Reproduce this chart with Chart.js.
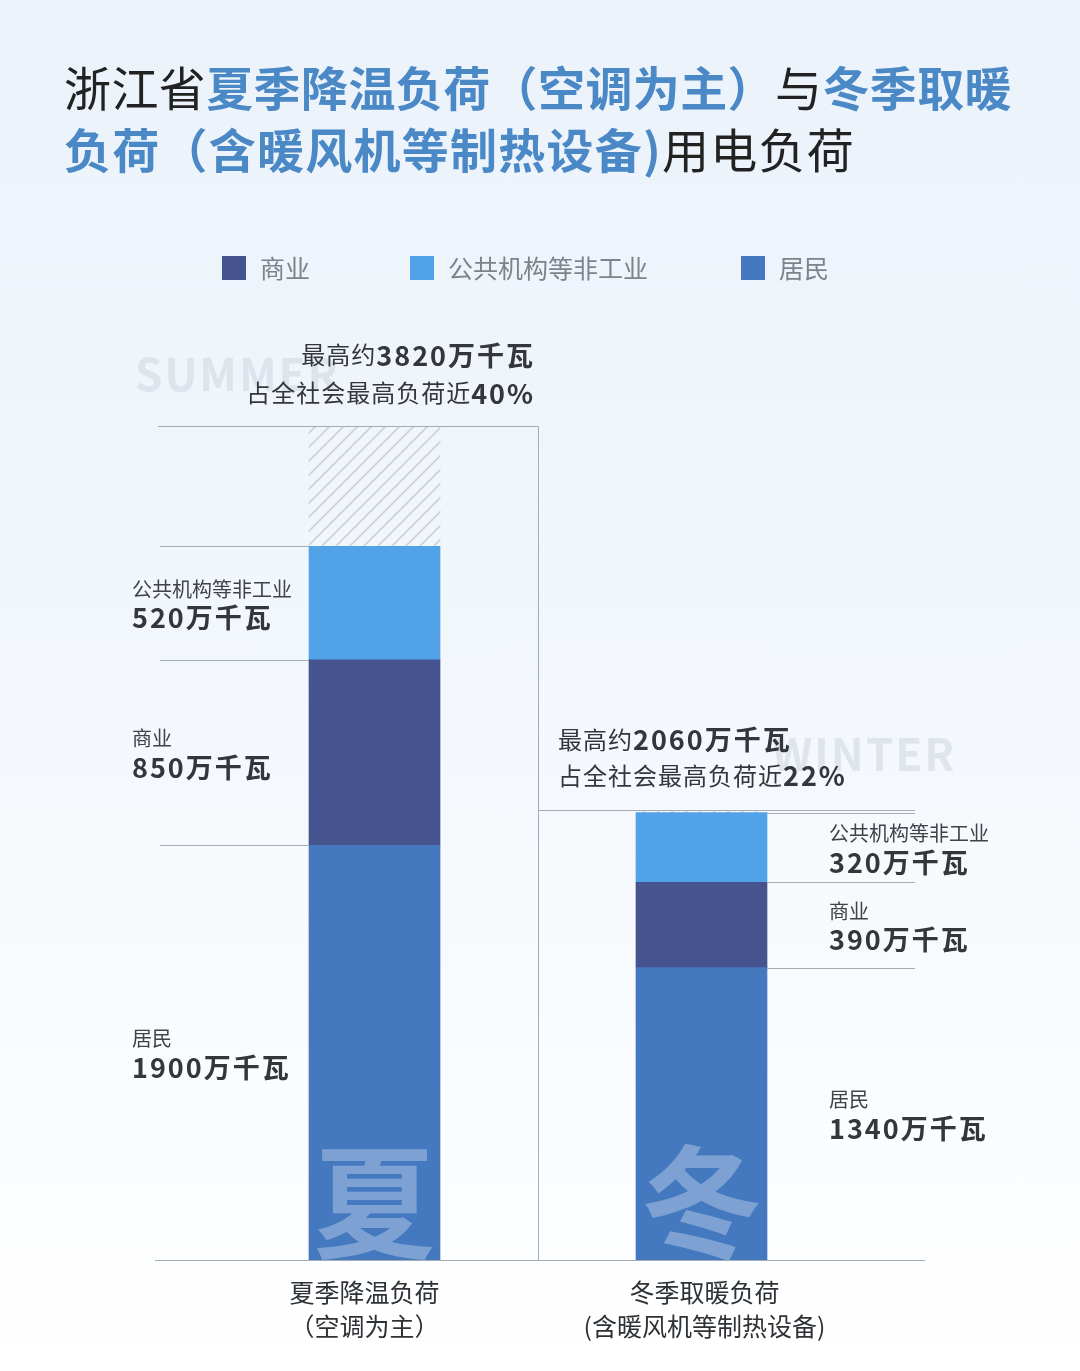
<!DOCTYPE html>
<html>
<head>
<meta charset="utf-8">
<script src="https://cdn.jsdelivr.net/npm/chart.js@4.4.1/dist/chart.umd.min.js"></script>
<style>
  html, body { margin: 0; padding: 0; }
  body {
    width: 1080px; height: 1371px; overflow: hidden;
    background: linear-gradient(180deg, #ebf2fa 0%, #f2f7fc 45%, #fafcfe 80%, #ffffff 100%);
  }
  #c { display: block; }
</style>
</head>
<body>
<canvas id="c" width="1080" height="1371"></canvas>
<script>
// data (单位: 万千瓦)
var categories = ["夏季降温负荷", "冬季取暖负荷"];
var axisLabels = [["夏季降温负荷", "（空调为主）"], ["冬季取暖负荷", "(含暖风机等制热设备)"]];
var residential = [1900, 1340];
var commercial = [850, 390];
var publicInst = [520, 320];
var peakTotal = [3820, 2060];
var peakShare = [40, 22];
var seasonChar = ["夏", "冬"];
var seasonWord = ["SUMMER", "WINTER"];

var FONT = "'Noto Sans CJK SC', 'Noto Sans', sans-serif";
var colors = { residential: "#4479bf", commercial: "#45538f", publicInst: "#52a2e8" };
var lineColor = "#a4acb5";

// remainder up to the peak (hatched)
var remainder = peakTotal.map(function (t, i) {
    return t - residential[i] - commercial[i] - publicInst[i];
});

function hatchPattern() {
    var p = document.createElement("canvas");
    p.width = 14; p.height = 14;
    var g = p.getContext("2d");
    g.strokeStyle = "#cfd2d5";
    g.lineWidth = 1.6;
    g.beginPath();
    g.moveTo(0, 14); g.lineTo(14, 0);
    g.moveTo(-7, 7); g.lineTo(7, -7);
    g.moveTo(7, 21); g.lineTo(21, 7);
    g.stroke();
    return document.getElementById("c").getContext("2d").createPattern(p, "repeat");
}

// draw a row of text runs [text, font, color, letterSpacing]
function runs(ctx, parts, x, y, align) {
    var w = 0;
    parts.forEach(function (p) {
        ctx.font = p[1];
        ctx.letterSpacing = (p[3] || 0) + "px";
        w += ctx.measureText(p[0]).width;
    });
    var cx = align === "right" ? x - w : (align === "center" ? x - w / 2 : x);
    ctx.textBaseline = "middle";
    ctx.textAlign = "left";
    parts.forEach(function (p) {
        ctx.font = p[1];
        ctx.letterSpacing = (p[3] || 0) + "px";
        ctx.fillStyle = p[2];
        ctx.fillText(p[0], cx, y);
        cx += ctx.measureText(p[0]).width;
    });
    ctx.letterSpacing = "0px";
}

function hline(ctx, x1, x2, y) {
    ctx.beginPath();
    ctx.moveTo(x1, Math.round(y) + 0.5);
    ctx.lineTo(x2, Math.round(y) + 0.5);
    ctx.stroke();
}

var decor = {
    id: "decor",
    beforeDatasetsDraw: function (chart) {
        var ctx = chart.ctx;
        var ys = chart.scales.y;
        ctx.save();
        // ghost words
        ctx.font = "bold 44px " + FONT;
        ctx.fillStyle = "rgba(205,213,222,0.55)";
        ctx.textBaseline = "middle";
        ctx.letterSpacing = "2px";
        ctx.fillText(seasonWord[0], 135, ys.getPixelForValue(peakTotal[0]) - 52);
        ctx.fillText(seasonWord[1], 772, ys.getPixelForValue(peakTotal[1]) - 56);
        ctx.letterSpacing = "0px";
        ctx.restore();
    },
    afterDatasetsDraw: function (chart) {
        var ctx = chart.ctx;
        var xs = chart.scales.x, ys = chart.scales.y;
        var bars = chart.getDatasetMeta(0).data;
        var half = bars[0].width / 2;
        var b0 = bars[0].x, b1 = bars[1].x;
        var divider = (b0 + half + b1 - half) / 2;
        var base = ys.getPixelForValue(0);
        ctx.save();

        // title
        var blue = "#4a88c6", dark = "#222222";
        var reg = "47px " + FONT, bold = "bold 47px " + FONT;
        runs(ctx, [["浙江省", reg, dark, 0.4], ["夏季降温负荷（空调为主）", bold, blue, 0.4], ["与", reg, dark, 0.4], ["冬季取暖", bold, blue, 0.4]], 64, 88);
        runs(ctx, [["负荷（含暖风机等制热设备)", bold, blue, 1.25], ["用电负荷", reg, dark, 1.25]], 64, 150);

        // legend
        var legend = [["商业", colors.commercial, 222], ["公共机构等非工业", colors.publicInst, 410], ["居民", colors.residential, 741]];
        legend.forEach(function (l) {
            ctx.fillStyle = l[1];
            ctx.fillRect(l[2], 256, 24, 24);
            runs(ctx, [[l[0], "25px " + FONT, "#7d838a"]], l[2] + 38, 268);
        });

        // watermark characters inside bars
        [b0, b1].forEach(function (bx, i) {
            ctx.save();
            ctx.beginPath();
            ctx.rect(bx - half, base - 140, half * 2, 140);
            ctx.clip();
            ctx.font = "bold 122px " + FONT;
            ctx.fillStyle = "rgba(255,255,255,0.3)";
            ctx.textAlign = "center";
            ctx.textBaseline = "alphabetic";
            ctx.fillText(seasonChar[i], bx, base - 12);
            ctx.restore();
        });

        // guide lines
        ctx.strokeStyle = lineColor;
        ctx.lineWidth = 1;
        hline(ctx, 155, 925, base);
        ctx.beginPath();
        ctx.moveTo(Math.round(divider) + 0.5, ys.getPixelForValue(peakTotal[0]));
        ctx.lineTo(Math.round(divider) + 0.5, base);
        ctx.stroke();
        hline(ctx, 158, divider, ys.getPixelForValue(peakTotal[0]));
        hline(ctx, divider, 915, ys.getPixelForValue(peakTotal[1]));

        var segs = [["居民", residential], ["商业", commercial], ["公共机构等非工业", publicInst]];
        [0, 1].forEach(function (i) {
            var acc = 0;
            segs.forEach(function (s) {
                var lo = acc, hi = acc + s[1][i];
                acc = hi;
                var yTop = ys.getPixelForValue(hi);
                var mid = (ys.getPixelForValue(lo) + yTop) / 2;
                if (i === 0) hline(ctx, 160, b0 - half, yTop);
                else hline(ctx, b1 + half, 915, yTop);
                var lx = i === 0 ? 132 : b1 + half + 62;
                runs(ctx, [[s[0], "20px " + FONT, "#3f4348"]], lx, mid - 14);
                runs(ctx, [[s[1][i] + "万千瓦", "bold 27px " + FONT, "#33363a", 2]], lx, mid + 15);
            });
        });

        // peak annotations
        var sr = "24px " + FONT, sb = "bold 27px " + FONT, tc = "#33363a";
        var t0 = ys.getPixelForValue(peakTotal[0]);
        runs(ctx, [["最高约", sr, tc, 1], [peakTotal[0] + "万千瓦", sb, tc, 2]], divider - 3, t0 - 71, "right");
        runs(ctx, [["占全社会最高负荷近", sr, tc, 1], [peakShare[0] + "%", sb, tc, 2]], divider - 3, t0 - 33, "right");
        var t1 = ys.getPixelForValue(peakTotal[1]);
        runs(ctx, [["最高约", sr, tc, 1], [peakTotal[1] + "万千瓦", sb, tc, 2]], divider + 20, t1 - 71);
        runs(ctx, [["占全社会最高负荷近", sr, tc, 1], [peakShare[1] + "%", sb, tc, 2]], divider + 20, t1 - 35);

        // category labels
        [b0, b1].forEach(function (bx, i) {
            var cx = xs.getPixelForValue(i) - (i === 0 ? 10 : -3);
            runs(ctx, [[axisLabels[i][0], "25px " + FONT, "#2e3135"]], cx, base + 32, "center");
            runs(ctx, [[axisLabels[i][1], "25px " + FONT, "#2e3135"]], cx, base + 66, "center");
        });
        ctx.restore();
    }
};

var chart = new Chart(document.getElementById("c"), {
    type: "bar",
    data: {
        labels: categories,
        datasets: [
            { label: "居民", data: residential, backgroundColor: colors.residential },
            { label: "商业", data: commercial, backgroundColor: colors.commercial },
            { label: "公共机构等非工业", data: publicInst, backgroundColor: colors.publicInst },
            { label: "最高负荷", data: remainder, backgroundColor: hatchPattern() }
        ]
    },
    options: {
        responsive: false,
        animation: false,
        layout: { padding: { left: 211, right: 215, top: 387, bottom: 111 } },
        datasets: { bar: { barThickness: 131, borderWidth: 0 } },
        scales: {
            x: { stacked: true, display: false },
            y: { stacked: true, display: false, min: 0, max: 4000 }
        },
        plugins: {
            legend: { display: false },
            tooltip: { enabled: false }
        }
    },
    plugins: [decor]
});
</script>
</body>
</html>
